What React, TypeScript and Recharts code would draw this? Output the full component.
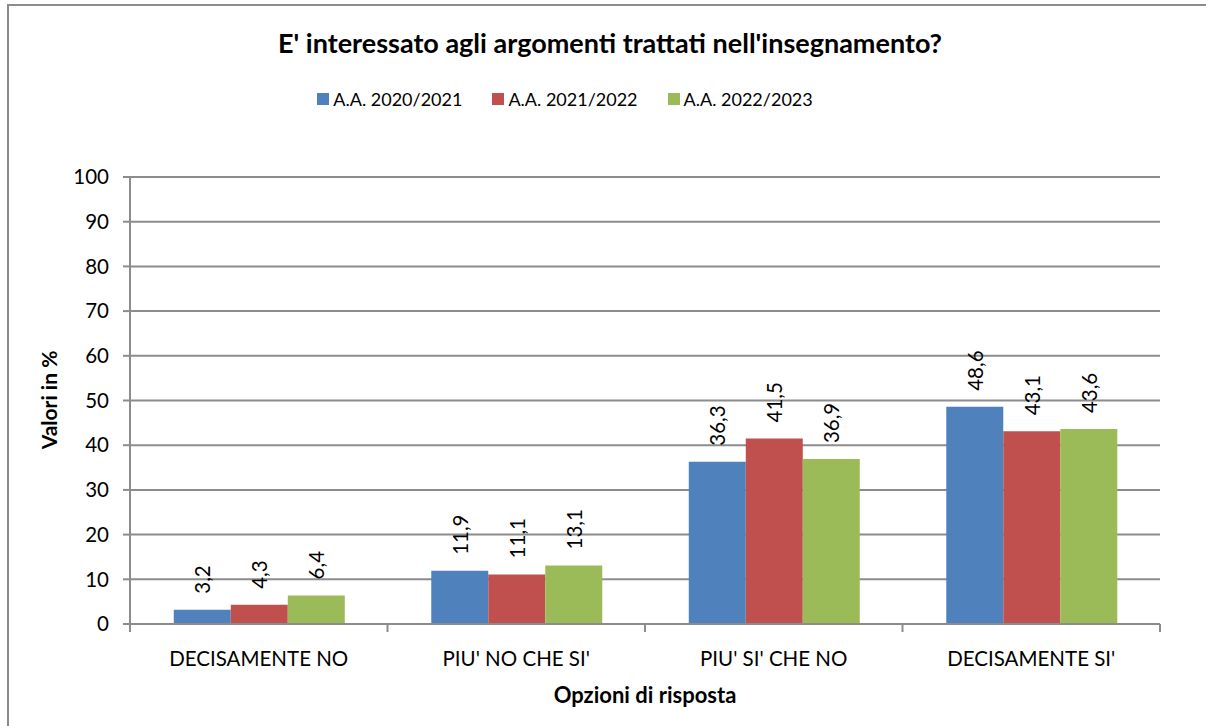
import React from 'react';
import { Bar, BarChart, CartesianGrid, LabelList, XAxis, YAxis } from 'recharts';

const categories = ["DECISAMENTE NO", "PIU' NO CHE SI'", "PIU' SI' CHE NO", "DECISAMENTE SI'"];
const aa2020 = [3.2, 11.9, 36.3, 48.6];
const aa2021 = [4.3, 11.1, 41.5, 43.1];
const aa2022 = [6.4, 13.1, 36.9, 43.6];
const seriesNames = ['A.A. 2020/2021', 'A.A. 2021/2022', 'A.A. 2022/2023'];
const seriesKeys = ['s2020', 's2021', 's2022'];
const colors = ['#4f81bd', '#c0504d', '#9bbb59'];
const yTicks = [0, 10, 20, 30, 40, 50, 60, 70, 80, 90, 100];

const data = categories.map((c, i) => ({ cat: c, s2020: aa2020[i], s2021: aa2021[i], s2022: aa2022[i] }));

const W = 1206;
const H = 726;
const PLOT_LEFT = 130;
const PLOT_RIGHT = 1160;
const PLOT_TOP = 177;
const PLOT_BOTTOM = 624;
const Y_AXIS_W = 60;
const X_AXIS_H = 40;
const FONT = 'Lato, "Open Sans", sans-serif';
const GRID = '#8c8c8c';
const FS = 20.5;

const fmt = (v: number) => v.toFixed(1).replace('.', ',');

function CatTick(props: any) {
  const { x, y, payload, index } = props;
  const step = (PLOT_RIGHT - PLOT_LEFT) / categories.length;
  return (
    <g>
      <line x1={x - step / 2} x2={x - step / 2} y1={PLOT_BOTTOM} y2={PLOT_BOTTOM + 8} stroke={GRID} strokeWidth={2} />
      {index === categories.length - 1 && (
        <line x1={x + step / 2} x2={x + step / 2} y1={PLOT_BOTTOM} y2={PLOT_BOTTOM + 8} stroke={GRID} strokeWidth={2} />
      )}
      <text x={x} y={y + 34} textAnchor="middle" fontFamily={FONT} fontSize={FS} fill="#000">
        {payload.value}
      </text>
    </g>
  );
}

function ValueLabel(props: any) {
  const { x, y, width, value } = props;
  const cx = x + width / 2;
  const cy = y - 16;
  return (
    <text x={cx} y={cy} transform={`rotate(-90 ${cx} ${cy})`} textAnchor="start" dominantBaseline="central" fontFamily={FONT} fontSize={FS} fill="#000">
      {fmt(value)}
    </text>
  );
}

export default function App() {
  return (
    <div style={{ position: 'fixed', left: 0, top: 0, width: W, height: H, overflow: 'hidden', background: '#fff', fontFamily: FONT }}>
      <div style={{ position: 'absolute', left: 7, top: 4, width: W + 20, height: H + 20, borderLeft: `2px solid ${GRID}`, borderTop: `2px solid ${GRID}` }} />
      <div style={{ position: 'absolute', left: 0, width: 1220, top: 26, textAlign: 'center', fontSize: 27, fontWeight: 700, color: '#000' }}>
        E' interessato agli argomenti trattati nell'insegnamento?
      </div>
      <div style={{ position: 'absolute', left: 0, width: 1130, top: 88, display: 'flex', justifyContent: 'center', gap: 30, fontSize: 18 }}>
        {seriesNames.map((n, i) => (
          <div key={n} style={{ display: 'flex', alignItems: 'center' }}>
            <span style={{ display: 'inline-block', width: 12, height: 12, background: colors[i], marginRight: 4 }} />
            <span>{n}</span>
          </div>
        ))}
      </div>
      <div style={{ position: 'absolute', left: 48, top: 400, transform: 'translate(-50%, -50%) rotate(-90deg)', fontSize: 21, fontWeight: 700, whiteSpace: 'nowrap' }}>
        Valori in %
      </div>
      <div style={{ position: 'absolute', left: 645, top: 694, transform: 'translate(-50%, -50%)', fontSize: 22, fontWeight: 700, whiteSpace: 'nowrap' }}>
        Opzioni di risposta
      </div>
      <div style={{ position: 'absolute', left: 0, top: 0 }}>
        <BarChart
          width={W}
          height={H}
          data={data}
          barCategoryGap="17%"
          barGap={0}
          margin={{ top: PLOT_TOP, right: W - PLOT_RIGHT, bottom: H - PLOT_BOTTOM - X_AXIS_H, left: PLOT_LEFT - Y_AXIS_W }}
        >
          <CartesianGrid vertical={false} stroke={GRID} strokeWidth={2} />
          <XAxis dataKey="cat" height={X_AXIS_H} axisLine={{ stroke: GRID, strokeWidth: 2 }} tickLine={false} tick={<CatTick />} interval={0} />
          <YAxis
            width={Y_AXIS_W}
            domain={[0, 100]}
            ticks={yTicks}
            interval={0}
            axisLine={{ stroke: GRID, strokeWidth: 2 }}
            tickLine={{ stroke: GRID, strokeWidth: 2 }}
            tickSize={7}
            tickMargin={14}
            tick={{ fill: '#000', fontSize: FS, fontFamily: FONT }}
          />
          {seriesKeys.map((k, i) => (
            <Bar key={k} dataKey={k} name={seriesNames[i]} fill={colors[i]} isAnimationActive={false}>
              <LabelList dataKey={k} content={<ValueLabel />} />
            </Bar>
          ))}
        </BarChart>
      </div>
    </div>
  );
}
